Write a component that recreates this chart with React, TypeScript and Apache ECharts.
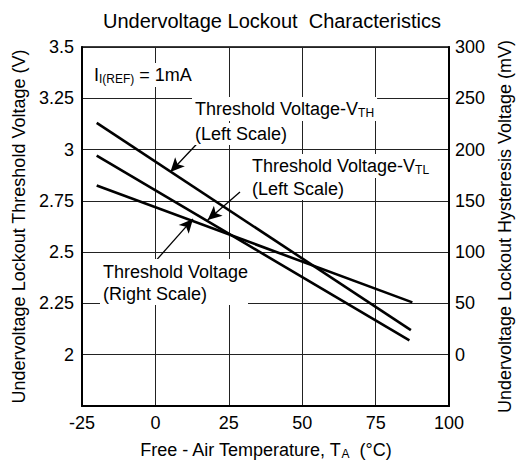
import React, { useEffect, useRef } from "react";
import * as echarts from "echarts";

// Temperature (°C) end points of each curve
const tempsVTH = [-20, 87];
const tempsVTL = [-20, 86.5];
const tempsHyst = [-20, 87.5];
// Threshold voltages (V, left scale)
const vthValues = [3.13, 2.12];
const vtlValues = [2.97, 2.07];
// Hysteresis voltage (mV, right scale)
const hystValues = [165, 51];

// axis ranges / ticks
const xMin = -25, xMax = 100, xStep = 25;
const yLeftMin = 1.75, yLeftMax = 3.5, yLeftStep = 0.25;
const yRightMin = -50, yRightMax = 300, yRightStep = 50;

// annotation arrows in data units (left scale): [fromT, fromV, toT, toV]
const arrowVTH = [14.4, 3.032, 5.1, 2.891];
const arrowVTL = [28.8, 2.793, 17.8, 2.657];
const arrowHyst = [0.4, 2.462, 12.8, 2.662];

const FONT = '"Liberation Sans", Arial, sans-serif';

function zip(xs: number[], ys: number[]) {
  return xs.map((x, i) => [x, ys[i]]);
}

export default function App() {
  const ref = useRef<HTMLDivElement>(null);
  useEffect(() => {
    if (!ref.current) return;
    const chart = echarts.init(ref.current, null, { renderer: "svg" });
    const arrow = (a: number[]) => [
      { coord: [a[0], a[1]], symbol: "none" },
      { coord: [a[2], a[3]], symbol: "arrow" },
    ];
    const textBox = (x: number, y: number, rich: string, extra: any = {}) => ({
      type: "text",
      x,
      y,
      z: 10,
      style: {
        text: rich,
        fill: "#000",
        font: `18px ${FONT}`,
        backgroundColor: "#fff",
        padding: [2, 3],
        verticalAlign: "middle",
        rich: {
          a: { fontSize: 18, fontFamily: FONT, fill: "#000" },
          s: { fontSize: 12, fontFamily: FONT, fill: "#000", padding: [8, 0, 0, 0] },
        },
        ...extra,
      },
    });
    chart.setOption({
      animation: false,
      backgroundColor: "#fff",
      title: {
        text: "Undervoltage Lockout  Characteristics",
        left: 98,
        top: 6,
        textStyle: { fontFamily: FONT, fontSize: 20, fontWeight: "normal", color: "#000" },
      },
      grid: {
        left: 82,
        right: 66,
        top: 47,
        bottom: 60,
        show: true,
        borderColor: "#000",
        borderWidth: 1.5,
      },
      xAxis: {
        type: "value",
        min: xMin,
        max: xMax,
        interval: xStep,
        name: "{a|Free - Air Temperature, T}{s|A}{a|  (°C)}",
        nameLocation: "middle",
        nameGap: 34,
        nameTextStyle: {
          rich: {
            a: { fontSize: 18, fontFamily: FONT, color: "#000" },
            s: { fontSize: 12, fontFamily: FONT, color: "#000", padding: [8, 0, 0, 0] },
          },
        },
        axisLine: { show: true, onZero: false, lineStyle: { color: "#000", width: 2 } },
        axisTick: { show: false },
        axisLabel: { fontFamily: FONT, fontSize: 18, color: "#000", margin: 8 },
        splitLine: { show: true, lineStyle: { color: "#222", width: 1 } },
      },
      yAxis: [
        {
          type: "value",
          min: yLeftMin,
          max: yLeftMax,
          interval: yLeftStep,
          position: "left",
          name: "Undervoltage Lockout Threshold Voltage (V)",
          nameLocation: "middle",
          nameGap: 52,
          nameTextStyle: { fontFamily: FONT, fontSize: 18, color: "#000" },
          axisLine: { show: true, onZero: false, lineStyle: { color: "#000", width: 2 } },
          axisTick: { show: false },
          axisLabel: {
            fontFamily: FONT,
            fontSize: 18,
            color: "#000",
            margin: 8,
            formatter: (v: number) => (v < 1.9 ? "" : String(v)),
          },
          splitLine: { show: true, lineStyle: { color: "#222", width: 1 } },
        },
        {
          type: "value",
          min: yRightMin,
          max: yRightMax,
          interval: yRightStep,
          position: "right",
          name: "Undervoltage Lockout Hysteresis Voltage (mV)",
          nameLocation: "middle",
          nameGap: 40,
          nameTextStyle: { fontFamily: FONT, fontSize: 18, color: "#000" },
          axisLine: { show: true, onZero: false, lineStyle: { color: "#000", width: 2 } },
          axisTick: { show: false },
          axisLabel: {
            fontFamily: FONT,
            fontSize: 18,
            color: "#000",
            margin: 6,
            formatter: (v: number) => (v < 0 ? "" : String(v)),
          },
          splitLine: { show: false },
        },
      ],
      series: [
        {
          name: "VTH",
          type: "line",
          yAxisIndex: 0,
          data: zip(tempsVTH, vthValues),
          showSymbol: false,
          lineStyle: { color: "#000", width: 2.6 },
          z: 5,
          markLine: {
            silent: true,
            symbolSize: [10, 14],
            label: { show: false },
            lineStyle: { color: "#000", width: 1.3, type: "solid" },
            data: [arrow(arrowVTH), arrow(arrowVTL), arrow(arrowHyst)],
          },
        },
        {
          name: "VTL",
          type: "line",
          yAxisIndex: 0,
          data: zip(tempsVTL, vtlValues),
          showSymbol: false,
          lineStyle: { color: "#000", width: 2.6 },
          z: 5,
        },
        {
          name: "Hysteresis",
          type: "line",
          yAxisIndex: 1,
          data: zip(tempsHyst, hystValues),
          showSymbol: false,
          lineStyle: { color: "#000", width: 2.6 },
          z: 5,
        },
      ],
      graphic: [
        textBox(91, 75, "{a|I}{s|I(REF)}{a| = 1mA}"),
        textBox(192, 109, "{a|Threshold Voltage-V}{s|TH}"),
        textBox(192, 134, "{a|(Left Scale)}"),
        textBox(249, 166, "{a|Threshold Voltage-V}{s|TL}"),
        textBox(249, 189, "{a|(Left Scale)}"),
        {
          type: "rect",
          z: 9,
          shape: { x: 100, y: 259, width: 148, height: 46 },
          style: { fill: "#fff" },
        },
        textBox(100, 272, "{a|Threshold Voltage}"),
        textBox(100, 294, "{a|(Right Scale)}"),
      ],
    });
    return () => chart.dispose();
  }, []);
  return (
    <div
      ref={ref}
      style={{ position: "fixed", left: 0, top: 0, width: 522, height: 466 }}
    />
  );
}
